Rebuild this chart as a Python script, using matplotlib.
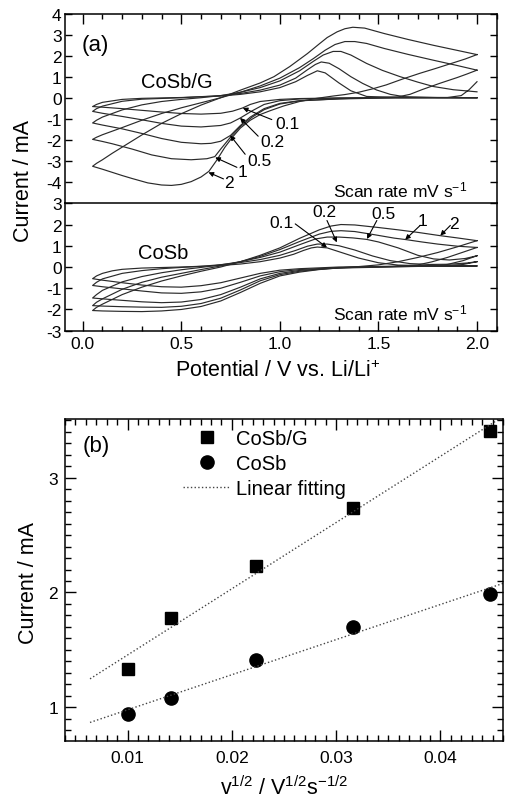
import numpy as np
import matplotlib.pyplot as plt
from matplotlib.ticker import MultipleLocator

plt.rcParams['font.family'] = ['Liberation Sans', 'DejaVu Sans']
plt.rcParams['mathtext.fontset'] = 'custom'
plt.rcParams['mathtext.rm'] = 'Liberation Sans'
plt.rcParams['mathtext.it'] = 'Liberation Sans:italic'
plt.rcParams['mathtext.bf'] = 'Liberation Sans:bold'
plt.rcParams['axes.unicode_minus'] = False

rate_labels = ['0.1', '0.2', '0.5', '1', '2']

# CV loops (potential V, current mA): cathodic sweep 2.0 -> 0.05 V, then anodic back to 2.0 V
# CoSb/G electrode
g01 = [(2.0, 0.02), (1.6, 0.02), (1.3, 0.01), (1.1, -0.02), (1.0, -0.06), (0.9, -0.16), (0.85, -0.3),
       (0.81, -0.47), (0.76, -0.62), (0.7, -0.72), (0.6, -0.76), (0.5, -0.73), (0.4, -0.66), (0.3, -0.58),
       (0.2, -0.5), (0.1, -0.43), (0.05, -0.40),
       (0.07, -0.3), (0.1, -0.2), (0.2, -0.06), (0.3, -0.01), (0.5, 0.03), (0.7, 0.1), (0.8, 0.18), (0.9, 0.3),
       (1.0, 0.5), (1.08, 0.78), (1.14, 1.08), (1.19, 1.3), (1.23, 1.2), (1.3, 0.72), (1.36, 0.35),
       (1.44, 0.08), (1.6, 0.03), (2.0, 0.02)]
g02 = [(2.0, 0.02), (1.6, 0.02), (1.3, 0.0), (1.1, -0.04), (1.0, -0.12), (0.92, -0.3), (0.86, -0.6),
       (0.8, -0.94), (0.75, -1.18), (0.7, -1.3), (0.6, -1.37), (0.5, -1.33), (0.4, -1.2), (0.3, -1.03),
       (0.2, -0.87), (0.1, -0.72), (0.05, -0.63),
       (0.07, -0.5), (0.1, -0.38), (0.2, -0.15), (0.3, -0.05), (0.5, 0.02), (0.7, 0.12), (0.8, 0.22),
       (0.9, 0.38), (1.0, 0.62), (1.08, 0.95), (1.14, 1.35), (1.18, 1.6), (1.21, 1.72), (1.25, 1.66),
       (1.3, 1.4), (1.36, 1.02), (1.42, 0.7), (1.49, 0.39), (1.56, 0.18), (1.63, 0.07), (1.8, 0.03), (2.0, 0.02)]
g05 = [(2.0, 0.78), (1.96, 0.4), (1.92, 0.12), (1.85, 0.03), (1.6, 0.02), (1.3, -0.04), (1.1, -0.12),
       (1.0, -0.25), (0.92, -0.5), (0.85, -0.9), (0.8, -1.3), (0.75, -1.77), (0.7, -2.05), (0.65, -2.15),
       (0.6, -2.17), (0.5, -2.1), (0.4, -1.92), (0.3, -1.68), (0.2, -1.46), (0.1, -1.28), (0.05, -1.18),
       (0.07, -1.05), (0.1, -0.9), (0.2, -0.56), (0.3, -0.32), (0.4, -0.16), (0.5, -0.06), (0.6, 0.02),
       (0.7, 0.12), (0.8, 0.28), (0.9, 0.5), (1.0, 0.82), (1.1, 1.3), (1.17, 1.75), (1.22, 2.05),
       (1.27, 2.22), (1.31, 2.22), (1.36, 2.05), (1.44, 1.65), (1.52, 1.32), (1.61, 1.02), (1.7, 0.76),
       (1.78, 0.55), (1.88, 0.4), (2.0, 0.3)]
g1 = [(2.0, 1.33), (1.95, 1.15), (1.9, 0.98), (1.81, 0.7), (1.72, 0.4), (1.66, 0.18), (1.6, 0.06),
      (1.45, 0.02), (1.3, -0.03), (1.1, -0.13), (1.0, -0.28), (0.92, -0.55), (0.86, -0.9), (0.8, -1.35),
      (0.75, -1.85), (0.7, -2.42), (0.67, -2.78), (0.63, -2.88), (0.55, -2.93), (0.45, -2.88), (0.35, -2.7),
      (0.25, -2.42), (0.15, -2.17), (0.1, -2.06), (0.05, -1.96),
      (0.07, -1.86), (0.1, -1.74), (0.2, -1.4), (0.3, -1.05), (0.4, -0.73), (0.5, -0.46), (0.6, -0.22),
      (0.7, 0.02), (0.8, 0.28), (0.9, 0.58), (1.0, 0.95), (1.1, 1.45), (1.17, 1.88), (1.23, 2.28),
      (1.28, 2.55), (1.33, 2.69), (1.38, 2.69), (1.44, 2.6), (1.53, 2.36), (1.65, 2.08), (1.78, 1.8),
      (1.9, 1.55), (2.0, 1.33)]
g2 = [(2.0, 2.07), (1.94, 1.86), (1.87, 1.65), (1.79, 1.41), (1.71, 1.18), (1.62, 0.9), (1.54, 0.63),
      (1.47, 0.44), (1.4, 0.28), (1.33, 0.17), (1.27, 0.1), (1.18, -0.02), (1.1, -0.16), (1.02, -0.37),
      (0.95, -0.6), (0.9, -0.78), (0.85, -1.05), (0.8, -1.42), (0.76, -1.85), (0.72, -2.35), (0.68, -2.95),
      (0.64, -3.48), (0.6, -3.75), (0.55, -3.97), (0.5, -4.1), (0.45, -4.15), (0.4, -4.13), (0.33, -4.03),
      (0.25, -3.82), (0.2, -3.68), (0.15, -3.53), (0.1, -3.38), (0.05, -3.24),
      (0.07, -3.1), (0.1, -2.93), (0.15, -2.62), (0.2, -2.33), (0.3, -1.75), (0.4, -1.2), (0.5, -0.74),
      (0.6, -0.33), (0.7, 0.02), (0.8, 0.38), (0.9, 0.72), (0.97, 1.02), (1.05, 1.5), (1.14, 2.12),
      (1.2, 2.58), (1.24, 2.88), (1.29, 3.15), (1.33, 3.3), (1.37, 3.37), (1.43, 3.33), (1.53, 3.07),
      (1.65, 2.79), (1.78, 2.51), (1.9, 2.27), (2.0, 2.07)]

# CoSb electrode
s01 = [(2.0, 0.05), (1.6, 0.04), (1.3, 0.0), (1.1, -0.08), (1.0, -0.15), (0.9, -0.3), (0.8, -0.52),
       (0.7, -0.74), (0.6, -0.88), (0.5, -0.95), (0.4, -0.93), (0.3, -0.85), (0.2, -0.74), (0.1, -0.62),
       (0.05, -0.55),
       (0.07, -0.42), (0.1, -0.3), (0.15, -0.18), (0.2, -0.11), (0.3, -0.05), (0.5, 0.0), (0.7, 0.07),
       (0.8, 0.14), (0.9, 0.25), (1.0, 0.42), (1.07, 0.6), (1.12, 0.78), (1.16, 0.9), (1.19, 0.94),
       (1.24, 0.9), (1.3, 0.72), (1.4, 0.42), (1.5, 0.2), (1.6, 0.09), (1.8, 0.05), (2.0, 0.05)]
s02 = [(2.0, 0.25), (1.93, 0.12), (1.85, 0.05), (1.6, 0.02), (1.3, -0.03), (1.1, -0.12), (1.0, -0.22),
       (0.9, -0.42), (0.8, -0.72), (0.7, -1.0), (0.6, -1.17), (0.5, -1.24), (0.4, -1.22), (0.3, -1.13),
       (0.2, -1.03), (0.1, -0.93), (0.05, -0.87),
       (0.07, -0.72), (0.1, -0.56), (0.2, -0.3), (0.3, -0.17), (0.4, -0.08), (0.5, -0.02), (0.6, 0.03),
       (0.7, 0.11), (0.8, 0.21), (0.9, 0.35), (1.0, 0.55), (1.08, 0.78), (1.14, 0.98), (1.19, 1.08),
       (1.24, 1.08), (1.3, 1.0), (1.38, 0.8), (1.47, 0.52), (1.56, 0.3), (1.66, 0.16), (1.76, 0.12),
       (1.86, 0.13), (1.95, 0.19), (2.0, 0.25)]
s05 = [(2.0, 0.53), (1.93, 0.3), (1.85, 0.12), (1.77, 0.04), (1.6, 0.01), (1.3, -0.05), (1.1, -0.16),
       (1.0, -0.3), (0.9, -0.56), (0.8, -0.95), (0.7, -1.3), (0.6, -1.53), (0.5, -1.65), (0.4, -1.68),
       (0.3, -1.64), (0.2, -1.57), (0.1, -1.5), (0.05, -1.46),
       (0.07, -1.3), (0.1, -1.1), (0.2, -0.7), (0.3, -0.45), (0.4, -0.27), (0.5, -0.13), (0.6, -0.02),
       (0.7, 0.1), (0.8, 0.25), (0.9, 0.45), (1.0, 0.7), (1.1, 1.05), (1.18, 1.32), (1.24, 1.41),
       (1.3, 1.41), (1.37, 1.37), (1.44, 1.3), (1.5, 1.18), (1.6, 0.9), (1.7, 0.55), (1.78, 0.38),
       (1.86, 0.33), (1.94, 0.4), (2.0, 0.53)]
s1 = [(2.0, 0.92), (1.93, 0.7), (1.85, 0.45), (1.77, 0.24), (1.7, 0.1), (1.6, 0.03), (1.4, -0.01),
      (1.25, -0.06), (1.1, -0.2), (1.0, -0.36), (0.9, -0.65), (0.8, -1.08), (0.7, -1.47), (0.6, -1.72),
      (0.5, -1.85), (0.4, -1.9), (0.3, -1.89), (0.2, -1.87), (0.1, -1.84), (0.05, -1.82),
      (0.07, -1.66), (0.1, -1.5), (0.2, -1.05), (0.3, -0.72), (0.4, -0.48), (0.5, -0.3), (0.6, -0.12),
      (0.7, 0.05), (0.8, 0.25), (0.9, 0.5), (1.0, 0.82), (1.1, 1.2), (1.2, 1.55), (1.26, 1.68),
      (1.31, 1.71), (1.38, 1.67), (1.48, 1.52), (1.58, 1.36), (1.64, 1.29), (1.72, 1.18), (1.8, 1.08),
      (1.9, 0.98), (2.0, 0.92)]
s2 = [(2.0, 1.24), (1.9, 0.95), (1.8, 0.68), (1.7, 0.45), (1.6, 0.25), (1.5, 0.1), (1.4, 0.02),
      (1.3, -0.04), (1.2, -0.12), (1.1, -0.24), (1.0, -0.42), (0.9, -0.77), (0.8, -1.2), (0.7, -1.6),
      (0.6, -1.86), (0.5, -2.0), (0.4, -2.07), (0.3, -2.1), (0.2, -2.09), (0.1, -2.07), (0.05, -2.05),
      (0.07, -1.9), (0.1, -1.75), (0.2, -1.3), (0.3, -0.95), (0.4, -0.66), (0.5, -0.42), (0.6, -0.2),
      (0.7, 0.0), (0.8, 0.25), (0.9, 0.55), (1.0, 0.9), (1.1, 1.35), (1.2, 1.75), (1.26, 1.93),
      (1.31, 2.0), (1.38, 1.98), (1.5, 1.86), (1.6, 1.75), (1.7, 1.63), (1.81, 1.48), (1.9, 1.37),
      (2.0, 1.24)]

# label text position and arrow (start, tip) for each scan rate, in data coords
g_label_pos = [(1.037, -1.21), (0.961, -2.06), (0.895, -2.95), (0.809, -3.47), (0.743, -3.99)]
g_arrow_from = [(0.959, -1.02), (0.890, -1.81), (0.824, -2.67), (0.782, -3.29), (0.714, -3.84)]
g_arrow_to = [(0.812, -0.47), (0.798, -0.94), (0.748, -1.77), (0.672, -2.82), (0.638, -3.53)]
s_label_pos = [(1.010, 2.11), (1.225, 2.60), (1.527, 2.51), (1.722, 2.18), (1.885, 2.03)]
s_arrow_from = [(1.078, 2.03), (1.239, 2.19), (1.492, 2.19), (1.712, 1.96), (1.865, 1.96)]
s_arrow_to = [(1.239, 0.92), (1.289, 1.16), (1.442, 1.32), (1.636, 1.29), (1.814, 1.48)]

# panel (b): peak current vs square root of scan rate
sqrt_rate = [0.01, 0.01414, 0.02236, 0.03162, 0.04472]
ip_cosbg = [1.333, 1.774, 2.231, 2.736, 3.405]
ip_cosb = [0.942, 1.081, 1.411, 1.701, 1.985]

LW = 0.85
CURVE = '#2a2a2a'
W, H = 505, 804


def frac(px, py):
    return px / W, 1 - py / H


fig = plt.figure(figsize=(W / 100, H / 100), dpi=100)
ax_top = fig.add_axes([65 / W, 1 - 204.3 / H, (496.7 - 65) / W, (204.3 - 15) / H])
ax_bot = fig.add_axes([65 / W, 1 - 331.7 / H, (496.7 - 65) / W, (331.7 - 204.3) / H])
ax_b = fig.add_axes([65 / W, 1 - 741.7 / H, (503 - 65) / W, (741.7 - 420) / H])

for ax, loops in ((ax_top, [g01, g02, g05, g1, g2]), (ax_bot, [s01, s02, s05, s1, s2])):
    for loop in loops:
        v, i = zip(*loop)
        ax.plot(v, i, color=CURVE, lw=LW)
    ax.set_xlim(-0.09, 2.1)
    ax.xaxis.set_major_locator(MultipleLocator(0.5))
    ax.xaxis.set_minor_locator(MultipleLocator(0.1))
    ax.yaxis.set_major_locator(MultipleLocator(1))
    for s in ax.spines.values():
        s.set_linewidth(1.1)

ax_top.set_ylim(-5, 4)
ax_top.set_yticks(range(-4, 5))
ax_top.spines['bottom'].set_visible(False)
ax_top.tick_params(axis='x', which='both', direction='in', top=True, bottom=False,
                   labelbottom=False, labeltop=False, width=1.0)
ax_top.tick_params(axis='x', which='major', length=7)
ax_top.tick_params(axis='x', which='minor', length=3.5)
ax_bot.set_ylim(-3, 3)
ax_bot.set_yticks(range(-3, 4))
ax_bot.tick_params(axis='x', which='both', direction='in', top=False, bottom=True, width=1.0)
ax_bot.tick_params(axis='x', which='major', length=7, pad=4, labelsize=12.5)
ax_bot.tick_params(axis='x', which='minor', length=3.5)
ax_bot.set_xticks([0, 0.5, 1.0, 1.5, 2.0])
ax_bot.set_xticklabels(['0.0', '0.5', '1.0', '1.5', '2.0'])
for ax in (ax_top, ax_bot):
    ax.tick_params(axis='y', which='both', direction='in', left=True, right=True,
                   length=5, width=1.0, pad=2.5, labelsize=12.5)

for k, lab in enumerate(rate_labels):
    ax_top.text(*g_label_pos[k], lab, fontsize=12.5, ha='center', va='center')
    ax_top.annotate('', xy=g_arrow_to[k], xytext=g_arrow_from[k],
                    arrowprops=dict(arrowstyle='-|>', color='k', lw=0.8, mutation_scale=7,
                                    shrinkA=0, shrinkB=0))
    ax_bot.text(*s_label_pos[k], lab, fontsize=12.5, ha='center', va='center')
    ax_bot.annotate('', xy=s_arrow_to[k], xytext=s_arrow_from[k],
                    arrowprops=dict(arrowstyle='-|>', color='k', lw=0.8, mutation_scale=7,
                                    shrinkA=0, shrinkB=0))

ax_top.text(0.479, 0.77, 'CoSb/G', fontsize=14.5, ha='center', va='center')
ax_bot.text(0.408, 0.70, 'CoSb', fontsize=14.5, ha='center', va='center')
ax_top.text(1.61, -4.36, 'Scan rate mV s$^{-1}$', fontsize=12.5, ha='center', va='center')
ax_bot.text(1.61, -2.16, 'Scan rate mV s$^{-1}$', fontsize=12.5, ha='center', va='center')
fig.text(*frac(95, 45), '(a)', fontsize=16, ha='center', va='center')
fig.text(*frac(24, 181), 'Current / mA', fontsize=15.5, rotation=90, ha='center', va='center')
fig.text(*frac(278, 371), 'Potential / V vs. Li/Li$^{+}$', fontsize=15.5, ha='center', va='center')

# panel (b)
ax_b.plot(sqrt_rate, ip_cosbg, 's', color='k', ms=9, label='CoSb/G')
ax_b.plot(sqrt_rate, ip_cosb, 'o', color='k', ms=9.5, label='CoSb')
xfit = np.array([0.0064, 0.047])
for ip in (ip_cosbg, ip_cosb):
    k, b = np.polyfit(sqrt_rate, ip, 1)
    ax_b.plot(xfit, k * xfit + b, ':', color='#444444', lw=1.0,
              label='Linear fitting' if ip is ip_cosbg else None)
ax_b.set_xlim(0.004, 0.046)
ax_b.set_ylim(0.71, 3.51)
ax_b.set_xticks([0.01, 0.02, 0.03, 0.04])
ax_b.set_xticklabels(['0.01', '0.02', '0.03', '0.04'])
ax_b.set_yticks([1, 2, 3])
ax_b.set_yticklabels(['1', '2', '3'])
ax_b.xaxis.set_minor_locator(MultipleLocator(0.001))
ax_b.yaxis.set_minor_locator(MultipleLocator(0.1))
ax_b.tick_params(which='both', direction='in', top=True, right=True, width=1.0, labelsize=12.5)
ax_b.tick_params(which='major', length=8)
ax_b.tick_params(which='minor', length=4)
ax_b.tick_params(axis='x', pad=7)
ax_b.tick_params(axis='y', pad=5)
for s in ax_b.spines.values():
    s.set_linewidth(1.1)
h, l = ax_b.get_legend_handles_labels()
ax_b.legend(h, l, loc='upper left', bbox_to_anchor=((183 - 65) / 438, 0.97), frameon=False,
            fontsize=14.5, handlelength=2.35, handletextpad=0.3, borderpad=0, borderaxespad=0,
            labelspacing=0.3)
fig.text(*frac(96.7, 446.7), '(b)', fontsize=16, ha='center', va='center')
fig.text(*frac(28.5, 583), 'Current / mA', fontsize=15.5, rotation=90, ha='center', va='center')
fig.text(*frac(284, 788), 'v$^{1/2}$ / V$^{1/2}$s$^{-1/2}$', fontsize=15.5, ha='center', va='center')

fig.savefig('out.png', dpi=100)
